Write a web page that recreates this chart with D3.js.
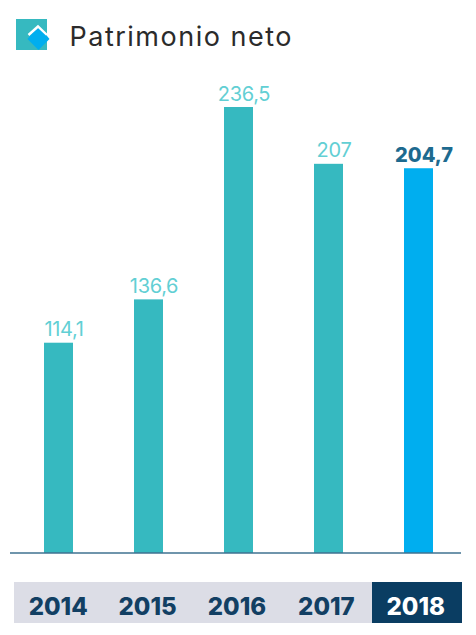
<!DOCTYPE html>
<html><head><meta charset="utf-8">
<script src="https://cdn.jsdelivr.net/npm/d3@7/dist/d3.min.js"></script>
<style>html,body{margin:0;padding:0;background:#fff}svg{display:block}text{font-family:Inter,"Open Sans",sans-serif}</style>
</head><body><svg id="c" width="476" height="635"></svg>
<script>
const title = "Patrimonio neto";
const years = ["2014","2015","2016","2017","2018"];
const values = [114.1,136.6,236.5,207,204.7];
const valueLabels = ["114,1","136,6","236,5","207","204,7"];
const highlightYear = "2018";

const W=476,H=635,base=553,top0=107;
const svg=d3.select("#c");
const x=d3.scaleBand().domain(years).range([13.5,463.5]);
const cell=d3.scaleBand().domain(years).range([14,462]);
const yearX=d3.scaleBand().domain(years).range([13.5,460.5]);
const y=d3.scaleLinear().domain([4.9,236.5]).range([base,top0]);
const barW=29, labelDx=5.5;

// icon
const icon=svg.append("g");
icon.append("rect").attr("x",16).attr("y",19).attr("width",31).attr("height",31).attr("fill","#36b9c0");
icon.append("path").attr("d","M38.5 25.5 L49.5 39 L38.5 50 L27.5 39 Z").attr("fill","#00aeef");
icon.append("path").attr("d","M28.5 35 L38 26.5 L47 35").attr("fill","none").attr("stroke","#fff").attr("stroke-width",2.4);
svg.append("text").attr("x",69.5).attr("y",46).attr("font-size",27).attr("letter-spacing",1.5).attr("fill","#2b2b2b").text(title);

// bars
svg.selectAll("rect.bar").data(years).join("rect").attr("class","bar")
  .attr("x",d=>x(d)+x.bandwidth()/2-barW/2).attr("width",barW)
  .attr("y",(d,i)=>y(values[i])).attr("height",(d,i)=>base-y(values[i]))
  .attr("fill",d=>d===highlightYear?"#00aeef":"#36b9c0");
svg.selectAll("text.val").data(years).join("text").attr("class","val")
  .attr("x",d=>x(d)+x.bandwidth()/2+labelDx).attr("y",(d,i)=>y(values[i])-6.5)
  .attr("text-anchor","middle").attr("font-size",20)
  .attr("font-weight",d=>d===highlightYear?800:400)
  .attr("fill",d=>d===highlightYear?"#1d6a8f":"#62cfd4")
  .attr("letter-spacing",d=>d===highlightYear?0:-0.3)
  .text((d,i)=>valueLabels[i]);

// axis line
svg.append("line").attr("x1",10).attr("x2",461).attr("y1",base).attr("y2",base).attr("stroke","#3f7290").attr("stroke-width",1.5);

// year band
svg.selectAll("rect.cell").data(years).join("rect").attr("class","cell")
  .attr("x",d=>cell(d)).attr("y",582).attr("width",cell.bandwidth()).attr("height",40.5)
  .attr("shape-rendering","crispEdges")
  .attr("fill",d=>d===highlightYear?"#0a3d62":"#dcdde6");
svg.selectAll("text.yr").data(years).join("text").attr("class","yr")
  .attr("x",d=>yearX(d)+yearX.bandwidth()/2).attr("y",615)
  .attr("text-anchor","middle").attr("font-size",24).attr("font-weight",800)
  .attr("fill",d=>d===highlightYear?"#fff":"#123f63").text(d=>d);
</script></body></html>
